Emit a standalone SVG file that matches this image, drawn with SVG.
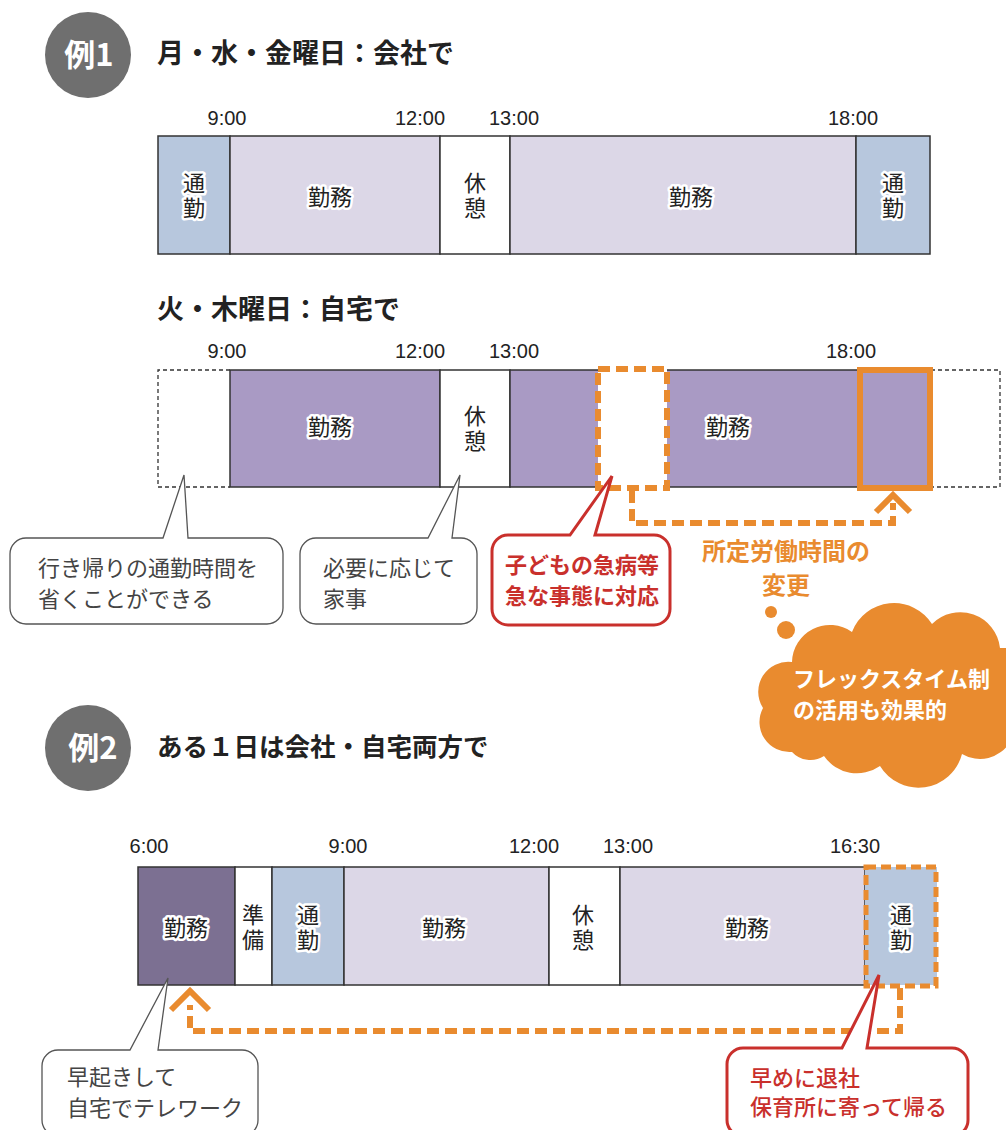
<svg xmlns="http://www.w3.org/2000/svg" width="1006" height="1130" viewBox="0 0 1006 1130">
<style>
text{font-family:"Noto Sans CJK JP","Noto Sans",sans-serif}
.time{font-family:"Liberation Sans","Noto Sans CJK JP",sans-serif;font-size:20px;fill:#222;text-anchor:middle}
.title{font-size:27px;font-weight:700;fill:#222}
.badge{fill:#6f6f6f}
.badgeT{font-size:31px;font-weight:700;fill:#fff;text-anchor:middle}
.seg{stroke:#333;stroke-width:1.5}
.commute{fill:#b7c7dd}
.work{fill:#dcd7e7}
.workDark{fill:#a99ac4}
.workEarly{fill:#7c7092}
.rest{fill:#fff}
.lbl{font-size:22px;fill:#222;text-anchor:middle;stroke:#fff;stroke-width:5px;stroke-linejoin:round;paint-order:stroke}
.plain{font-size:22px;fill:#222;text-anchor:middle}
.vert{writing-mode:vertical-rl;letter-spacing:3px;text-anchor:middle}
.dashThin{fill:none;stroke:#333;stroke-width:1.3;stroke-dasharray:4 3}
.orangeDash{fill:none;stroke:#e98b2f;stroke-width:6;stroke-dasharray:12 6}
.orange{fill:none;stroke:#e98b2f;stroke-width:6}
.callout{fill:#fff;stroke:#555;stroke-width:1.3}
.calloutRed{fill:#fff;stroke:#c9302c;stroke-width:3}
.ctext{font-size:22px;fill:#444}
.rtext{font-size:22px;fill:#c9302c;font-weight:700}
.otext{font-size:24px;fill:#e98b2f;font-weight:700;text-anchor:middle}
.cloudT{font-size:22px;fill:#fff;font-weight:700}
.cloud{fill:#e98b2f}
</style>

<g id="badge1">
<circle class="badge" cx="88" cy="55" r="43"/>
<text class="badgeT" x="89" y="66">例1</text>
</g>
<g id="title1"><text class="title" x="157" y="63">月・水・金曜日：会社で</text></g>

<g id="times1">
<text class="time" x="227" y="125">9:00</text>
<text class="time" x="420" y="125">12:00</text>
<text class="time" x="514" y="125">13:00</text>
<text class="time" x="853" y="125">18:00</text>
</g>

<g id="bar1">
<g id="b1-commute1"><rect class="commute seg" x="158" y="136" width="72" height="118"/><text class="lbl vert" x="194" y="197">通勤</text></g>
<g id="b1-work1"><rect class="work seg" x="230" y="136" width="210" height="118"/><text class="lbl" x="330" y="205">勤務</text></g>
<g id="b1-rest"><rect class="rest seg" x="440" y="136" width="70" height="118"/><text class="plain vert" x="475" y="197">休憩</text></g>
<g id="b1-work2"><rect class="work seg" x="510" y="136" width="346" height="118"/><text class="lbl" x="691" y="205">勤務</text></g>
<g id="b1-commute2"><rect class="commute seg" x="856" y="136" width="74" height="118"/><text class="lbl vert" x="893" y="197">通勤</text></g>
</g>

<g id="title2"><text class="title" x="157" y="319">火・木曜日：自宅で</text></g>
<g id="times2">
<text class="time" x="227" y="358">9:00</text>
<text class="time" x="420" y="358">12:00</text>
<text class="time" x="514" y="358">13:00</text>
<text class="time" x="851" y="358">18:00</text>
</g>
<g id="bar2">
<g id="b2-home1"><path class="dashThin" d="M230 370 H158 V487 H230"/></g>
<g id="b2-work1"><rect class="workDark seg" x="230" y="370" width="210" height="117"/><text class="lbl" x="330" y="435">勤務</text></g>
<g id="b2-rest"><rect class="rest seg" x="440" y="370" width="70" height="117"/><text class="plain vert" x="475" y="430">休憩</text></g>
<g id="b2-work2"><rect class="workDark seg" x="510" y="370" width="421" height="117"/><text class="lbl" x="728" y="435">勤務</text></g>
<g id="b2-home2"><path class="dashThin" d="M931 370 H1000 V487 H931"/></g>
<g id="b2-emergency"><rect class="orangeDash" x="598" y="369" width="69" height="119" style="fill:#fff"/></g>
<g id="b2-shift"><rect class="orange" x="860" y="370" width="70" height="118"/></g>
</g>

<g id="connectors">
<path class="orangeDash" d="M632 491 V523 H893 V503"/>
<path class="orange" d="M876 512 L893 495 L910 512"/>
<path class="orangeDash" d="M900 988 V1031 H190 V1005"/>
<path class="orange" d="M171 1010 L190 991 L209 1010"/>
</g>

<g id="callout-commute">
<path class="callout" d="M26 538 H163 L184 475 L188 538 H267 A16 16 0 0 1 283 554 V608 A16 16 0 0 1 267 624 H26 A16 16 0 0 1 10 608 V554 A16 16 0 0 1 26 538 Z"/>
<text class="ctext" x="38" y="576">行き帰りの通勤時間を</text>
<text class="ctext" x="38" y="607">省くことができる</text>
</g>
<g id="callout-chores">
<path class="callout" d="M316 538 H428 L460 475 L452 538 H461 A16 16 0 0 1 477 554 V608 A16 16 0 0 1 461 624 H316 A16 16 0 0 1 300 608 V554 A16 16 0 0 1 316 538 Z"/>
<text class="ctext" x="323" y="576">必要に応じて</text>
<text class="ctext" x="323" y="607">家事</text>
</g>
<g id="callout-emergency">
<path class="calloutRed" d="M508 535 H570 L612 476 L595 535 H654 A16 16 0 0 1 670 551 V609 A16 16 0 0 1 654 625 H508 A16 16 0 0 1 492 609 V551 A16 16 0 0 1 508 535 Z"/>
<text class="rtext" x="505" y="573">子どもの急病等</text>
<text class="rtext" x="505" y="604">急な事態に対応</text>
</g>
<g id="label-change">
<text class="otext" x="786" y="560">所定労働時間の</text>
<text class="otext" x="786" y="594">変更</text>
</g>
<g id="cloud-flex">
<circle class="cloud" cx="771" cy="612" r="6"/>
<circle class="cloud" cx="786" cy="630" r="9"/>
<path class="cloud" d="M792 752 A30 30 0 0 1 763 708 A30 30 0 0 1 792 662 A38 38 0 0 1 852 632 A45 45 0 0 1 932 624 A40 40 0 0 1 1000 648 L1010 648 L1010 742 A35 35 0 0 1 962 754 A45 45 0 0 1 880 766 A40 40 0 0 1 824 756 A25 25 0 0 1 792 752 Z"/>
<text class="cloudT" x="793" y="687">フレックスタイム制</text>
<text class="cloudT" x="793" y="718">の活用も効果的</text>
</g>

<g id="badge2">
<circle class="badge" cx="88" cy="748" r="43"/>
<text class="badgeT" x="93" y="759">例2</text>
</g>
<g id="title3"><text class="title" x="157" y="756" style="font-size:25.5px">ある１日は会社・自宅両方で</text></g>
<g id="times3">
<text class="time" x="149" y="853">6:00</text>
<text class="time" x="348" y="853">9:00</text>
<text class="time" x="534" y="853">12:00</text>
<text class="time" x="628" y="853">13:00</text>
<text class="time" x="855" y="853">16:30</text>
</g>
<g id="bar3">
<g id="b3-early"><rect class="workEarly seg" x="138" y="867" width="97" height="118"/><text class="lbl" x="186" y="936">勤務</text></g>
<g id="b3-prep"><rect class="rest seg" x="235" y="867" width="37" height="118"/><text class="plain vert" x="253" y="929">準備</text></g>
<g id="b3-commute1"><rect class="commute seg" x="272" y="867" width="72" height="118"/><text class="lbl vert" x="308" y="929">通勤</text></g>
<g id="b3-work1"><rect class="work seg" x="344" y="867" width="205" height="118"/><text class="lbl" x="444" y="936">勤務</text></g>
<g id="b3-rest"><rect class="rest seg" x="549" y="867" width="71" height="118"/><text class="plain vert" x="583" y="929">休憩</text></g>
<g id="b3-work2"><rect class="work seg" x="620" y="867" width="245" height="118"/><text class="lbl" x="747" y="936">勤務</text></g>
<g id="b3-commute2"><rect class="commute" x="865" y="867" width="72" height="118"/><rect x="866" y="867" width="70" height="119" fill="none" stroke="#e98b2f" stroke-width="5" stroke-dasharray="10 5"/><text class="lbl vert" x="901" y="929">通勤</text></g>
</g>
<g id="callout-early">
<path class="callout" d="M58 1050 H130 L168 978 L158 1050 H242 A16 16 0 0 1 258 1066 V1120 A16 16 0 0 1 242 1136 H58 A16 16 0 0 1 42 1120 V1066 A16 16 0 0 1 58 1050 Z"/>
<text class="ctext" x="67" y="1085">早起きして</text>
<text class="ctext" x="67" y="1116">自宅でテレワーク</text>
</g>
<g id="callout-leave">
<path class="calloutRed" d="M743 1048 H842 L879 975 L867 1048 H952 A16 16 0 0 1 968 1064 V1120 A16 16 0 0 1 952 1136 H743 A16 16 0 0 1 727 1120 V1064 A16 16 0 0 1 743 1048 Z"/>
<text class="rtext" x="750" y="1086" style="font-weight:500">早めに退社</text>
<text class="rtext" x="750" y="1115" style="font-weight:500">保育所に寄って帰る</text>
</g>
</svg>
